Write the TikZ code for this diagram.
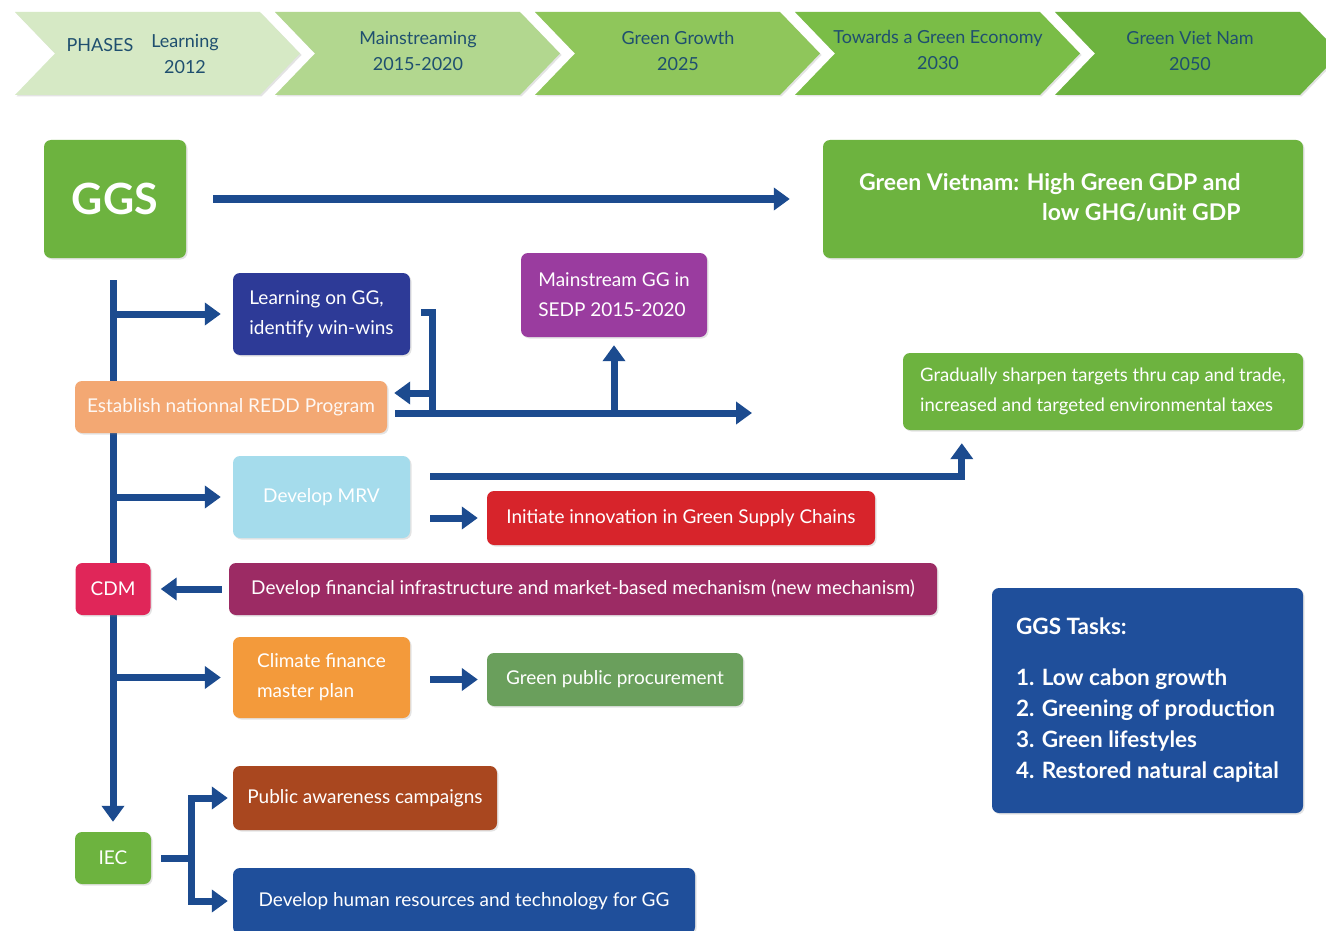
\documentclass[tikz,border=0pt]{standalone}
\usepackage{fontspec}
\setmainfont{Lato}
\usetikzlibrary{arrows.meta,calc,backgrounds,shadows}
\definecolor{navy}{HTML}{1C4B8F}
\definecolor{ggreen}{HTML}{6DB33F}
\definecolor{ch1}{HTML}{D6E9C5}
\definecolor{ch2}{HTML}{B2D78F}
\definecolor{ch3}{HTML}{8FC65B}
\definecolor{ch4}{HTML}{7ABD47}
\definecolor{ch5}{HTML}{6DB33F}
\definecolor{chtxt}{HTML}{1F4F6F}
\definecolor{cindigo}{HTML}{2D3A97}
\definecolor{cpurple}{HTML}{9A3C9F}
\definecolor{cpeach}{HTML}{F3A873}
\definecolor{ccyan}{HTML}{A5DCEC}
\definecolor{cred}{HTML}{D7242B}
\definecolor{ccrimson}{HTML}{E02659}
\definecolor{cplum}{HTML}{9C2B64}
\definecolor{corange}{HTML}{F39A3B}
\definecolor{cmgreen}{HTML}{6A9F5C}
\definecolor{cblue}{HTML}{1F4F9B}
\definecolor{cbrown}{HTML}{A9471F}
\begin{document}
\begin{tikzpicture}[x=1pt,y=-1pt,
  shd/.style={drop shadow={opacity=0.22,shadow xshift=1.5pt,shadow yshift=-1.5pt}},
  box/.style={rounded corners=7pt,text=white,inner sep=0pt,shd,
    font=\fontsize{19}{30}\selectfont},
  chtext/.style={align=center,text=chtxt,font=\fontsize{18}{26}\selectfont},
  line/.style={draw=navy,line width=7pt,line join=miter},
  arr/.style={line,-{Triangle[width=22pt,length=16pt]}}]
\useasboundingbox (0,0) rectangle (1326,931);

% chevrons
\foreach \L/\c in {15/ch1,275/ch2,535/ch3,795/ch4,1055/ch5}{
  \fill[\c,shd] (\L,12) -- ++(245,0) -- ++(40,41.5) -- ++(-40,41.5) -- ++(-245,0) -- ++(40,-41.5) -- cycle;
}
\node[chtext] (ph) at (100,45) {PHASES};
\node[chtext] (c1) at (185,54) {Learning\\2012};
\node[chtext] (c2) at (418,51) {Mainstreaming\\2015-2020};
\node[chtext] (c3) at (678,51) {Green Growth\\2025};
\node[chtext] (c4) at (938,50) {Towards a Green Economy\\2030};
\node[chtext] (c5) at (1190,51) {Green Viet Nam\\2050};

% boxes
\node[box,fill=ggreen,minimum width=142,minimum height=118,font=\bfseries\fontsize{43}{50}\selectfont] (ggs) at (115,199) {GGS};
\node[box,fill=ggreen,minimum width=480,minimum height=118] (gv) at (1063,199) {};
\node[anchor=east,align=right,text=white,font=\bfseries\fontsize{23}{30}\selectfont] (gvt) at (1244,198) {Green Vietnam: High Green GDP and\\low GHG/unit GDP};
\node[box,fill=cindigo,minimum width=177,minimum height=82,align=left] (learn) at (321.5,314) {Learning on GG,\\identify win-wins};
\node[box,fill=cpurple,minimum width=186,minimum height=84,align=left] (main) at (614,295) {Mainstream GG in\\SEDP 2015-2020};
\node[box,fill=cpeach,minimum width=312,minimum height=52,text=white!92!cpeach] (redd) at (231,407) {Establish nationnal REDD Program};
\node[box,fill=ggreen,minimum width=400,minimum height=77,align=left,font=\fontsize{18.5}{30}\selectfont] (grad) at (1103,391.5) {Gradually sharpen targets thru cap and trade,\\increased and targeted environmental taxes};
\node[box,fill=ccyan,minimum width=177,minimum height=82] (mrv) at (321.5,497) {Develop MRV};
\node[box,fill=cred,minimum width=388,minimum height=54] (init) at (681,518) {Initiate innovation in Green Supply Chains};
\node[box,fill=ccrimson,minimum width=75,minimum height=52] (cdm) at (113,589) {CDM};
\node[box,fill=cplum,minimum width=708,minimum height=52] (fin) at (583,589) {Develop financial infrastructure and market-based mechanism (new mechanism)};
\node[box,fill=corange,minimum width=177,minimum height=81,align=left] (clim) at (321.5,677.5) {Climate finance\\master plan};
\node[box,fill=cmgreen,minimum width=256,minimum height=53] (gpp) at (615,679.5) {Green public procurement};
\node[box,fill=cblue,minimum width=311,minimum height=225,align=left,font=\bfseries\fontsize{22.5}{31}\selectfont] (tasks) at (1147.5,700.5) {GGS Tasks:\\[20pt]1. Low cabon growth\\2. Greening of production\\3. Green lifestyles\\4. Restored natural capital};
\node[box,fill=cbrown,minimum width=264,minimum height=64] (pub) at (365,798) {Public awareness campaigns};
\node[box,fill=ggreen,minimum width=76,minimum height=52] (iec) at (113,858) {IEC};
\node[box,fill=cblue,minimum width=462,minimum height=66] (hr) at (464,901) {Develop human resources and technology for GG};

% connectors
\begin{scope}[on background layer]
\fill[white] (0,0) rectangle (1326,931);
\draw[arr] ([xshift=27pt]ggs.east) -- ([xshift=-33pt]gv.west);
\coordinate (trunk) at (113,280);
\draw[arr] (trunk) -- ([yshift=10pt]iec.north);
\draw[arr] (trunk |- learn.west) -- ([xshift=-12pt]learn.west);
\draw[arr] (trunk |- mrv.west) -- ([xshift=-12pt]mrv.west);
\draw[arr] (trunk |- clim.west) -- ([xshift=-12pt]clim.west);
\draw[arr] ([xshift=-7pt]fin.west) -- ([xshift=10pt]cdm.east);
\draw[arr] ($(mrv.east |- init.west)+(20,0)$) -- ([xshift=-9pt]init.west);
\draw[arr] ($(clim.east |- gpp.west)+(20,0)$) -- ([xshift=-9pt]gpp.west);
\draw[arr] ($(mrv.east)+(20,-21)$) -| ($(grad.south west)+(59,13)$);
\coordinate (reddend) at (752,413);
\draw[arr] ($(redd.east |- reddend)+(8,0)$) -- (reddend);
\draw[arr] (main.south |- reddend) -- ([yshift=-8pt]main.south);
\coordinate (br) at ($(learn.east)+(22,-2)$);
\draw[line] ($(learn.east)+(11,-2)$) -- (br) -- (br |- reddend);
\coordinate (reddin) at ($(redd.east)+(7,-14)$);
\draw[arr] (br |- reddin) -- (reddin);
\coordinate (iecj) at ($(iec.east)+(40,0)$);
\draw[line] ($(iec.east)+(10,0)$) -- (iecj);
\draw[arr] (iecj) |- ([xshift=-5pt]pub.west);
\draw[arr] (iecj) |- ([xshift=-5pt]hr.west);
\end{scope}
\end{tikzpicture}
\end{document}
